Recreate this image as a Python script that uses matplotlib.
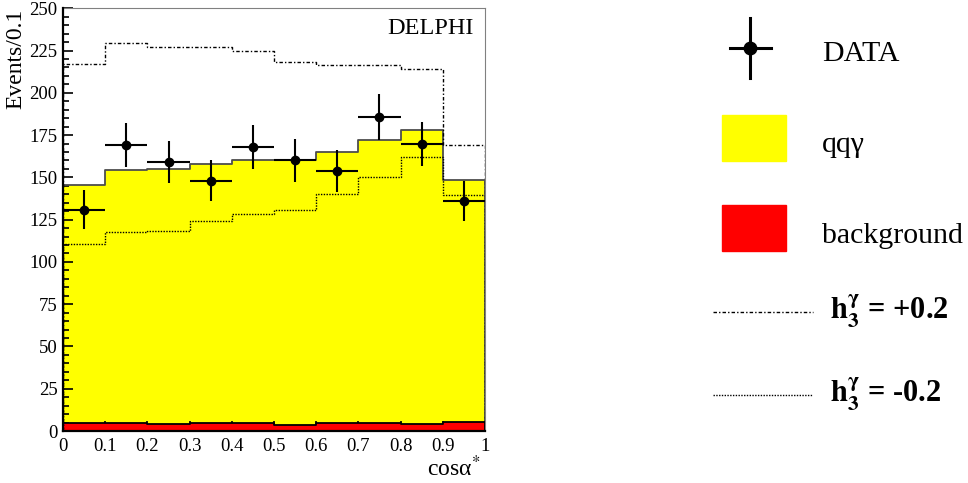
import numpy as np
import matplotlib
matplotlib.use("Agg")
import matplotlib.pyplot as plt
from matplotlib.lines import Line2D
from matplotlib.patches import Rectangle
from matplotlib.ticker import MultipleLocator, FixedLocator, FixedFormatter

plt.rcParams["font.family"] = ["Liberation Serif", "DejaVu Serif"]
plt.rcParams["mathtext.fontset"] = "stix"

# cos(alpha*) binning
bin_edges = [0.0, 0.1, 0.2, 0.3, 0.4, 0.5, 0.6, 0.7, 0.8, 0.9, 1.0]

# observed events per bin with statistical errors
data = [131, 169, 159, 148, 168, 160, 154, 186, 170, 136]
data_err = [11.4, 13.0, 12.6, 12.2, 13.0, 12.6, 12.4, 13.6, 13.0, 11.7]

# stacked Monte Carlo: qqgamma (top of stack) and background
qqg_total = [145.5, 154.3, 155.0, 157.9, 160.3, 160.0, 165.2, 172.0, 178.2, 148.7]
background = [4.5, 4.9, 4.1, 4.9, 4.9, 3.4, 4.5, 4.7, 4.0, 5.3]

# anomalous coupling predictions
h3_plus = [217.0, 229.3, 227.3, 227.3, 224.9, 218.0, 216.7, 216.7, 213.9, 169.1]
h3_minus = [110.4, 117.5, 118.5, 124.0, 128.1, 130.7, 140.0, 150.0, 161.9, 139.5]

x_tick_labels = ["0", "0.1", "0.2", "0.3", "0.4", "0.5", "0.6", "0.7", "0.8", "0.9", "1"]

W, H = 968, 483
fig = plt.figure(figsize=(W / 100, H / 100), dpi=100)
ax = fig.add_axes([63 / W, 1 - 431 / H, 422 / W, (431 - 8.3) / H])

edges = np.array(bin_edges)


def outline(vals):
    """Closed histogram outline that drops to zero at both ends."""
    xs = np.concatenate([[edges[0]], np.repeat(edges, 2)[1:-1], [edges[-1]]])
    ys = np.concatenate([[0], np.repeat(vals, 2), [0]])
    return xs, ys


# qqgamma stack
ax.stairs(qqg_total, edges, fill=True, color="#ffff00", zorder=1)
xs, ys = outline(qqg_total)
ax.plot(xs, ys, color="#4d4d4d", lw=1.3, zorder=2)

# background
ax.stairs(background, edges, fill=True, color="#ff0000", zorder=3)
xs, ys = outline(background)
ax.plot(xs, ys, color="black", lw=1.3, zorder=4)

# h3 = +0.2 and h3 = -0.2 predictions
xs, ys = outline(h3_plus)
ax.plot(xs, ys, color="black", lw=1.0, linestyle=(0, (2.5, 1.5, 1, 1.5)), zorder=5)
xs, ys = outline(h3_minus)
ax.plot(xs, ys, color="black", lw=1.0, linestyle=(0, (1, 1)), zorder=5)

# data points
centers = 0.5 * (edges[:-1] + edges[1:])
half_w = 0.5 * np.diff(edges)
ax.errorbar(centers, data, xerr=half_w, yerr=data_err, fmt="o", color="black",
            ms=6, elinewidth=1.5, capsize=0, zorder=6)

ax.set_xlim(0, 1)
ax.set_ylim(0, 250)

ax.xaxis.set_major_locator(FixedLocator(bin_edges))
ax.xaxis.set_major_formatter(FixedFormatter(x_tick_labels))
ax.xaxis.set_minor_locator(MultipleLocator(0.02))
ax.yaxis.set_major_locator(MultipleLocator(25))
ax.yaxis.set_minor_locator(MultipleLocator(5))
ax.tick_params(which="both", direction="in", top=False, right=False,
               labelsize=13.5, width=1.2, zorder=10)
ax.tick_params(which="major", length=7)
ax.tick_params(which="minor", length=4)
ax.tick_params(axis="x", pad=5)
ax.tick_params(axis="y", pad=4)
for s in ("left", "bottom"):
    ax.spines[s].set_linewidth(1.6)
    ax.spines[s].set_zorder(10)
for s in ("top", "right"):
    ax.spines[s].set_linewidth(0.8)
    ax.spines[s].set_color("#808080")

ax.text(-47 / 422, 1.0, "Events/0.1", transform=ax.transAxes, rotation=90,
        ha="center", va="top", fontsize=17)
ax.text(417 / 422, -45 / 422.7, "cosα$^{*}$", transform=ax.transAxes,
        ha="right", va="baseline", fontsize=17)
ax.text(0.973, 0.978, "DELPHI", transform=ax.transAxes, ha="right", va="top",
        fontsize=17.5)

# legend drawn in figure pixel coordinates
def fx(px):
    return px / W


def fy(py):
    return 1 - py / H


fig.add_artist(Line2D([fx(730), fx(771)], [fy(48.3), fy(48.3)], color="black", lw=2.2))
fig.add_artist(Line2D([fx(750), fx(750)], [fy(18), fy(78)], color="black", lw=2.2))
fig.add_artist(Line2D([fx(750)], [fy(48.3)], marker="o", ms=9, color="black"))
fig.text(fx(822), fy(61), "DATA", ha="left", va="baseline", fontsize=21.5)

fig.add_artist(Rectangle((fx(722), fy(161)), fx(64), 46 / H, color="#ffff00"))
fig.text(fx(822), fy(152), "qqγ", ha="left", va="baseline", fontsize=21.5)

fig.add_artist(Rectangle((fx(722), fy(251)), fx(64), 46 / H, color="#ff0000"))
fig.text(fx(822), fy(243), "background", ha="left", va="baseline", fontsize=21.5)

fig.add_artist(Line2D([fx(713), fx(813)], [fy(311.7), fy(311.7)], color="black",
                      lw=1.0, linestyle=(0, (2.5, 1.5, 1, 1.5))))
fig.text(fx(830), fy(319.3), r"$\mathbf{h}_{\mathbf{3}}^{\mathbf{\gamma}}$ = +0.2",
         ha="left", va="baseline", fontsize=22, fontweight="bold")

fig.add_artist(Line2D([fx(713), fx(813)], [fy(395), fy(395)], color="black",
                      lw=1.0, linestyle=(0, (1, 1))))
fig.text(fx(830), fy(402.7), r"$\mathbf{h}_{\mathbf{3}}^{\mathbf{\gamma}}$ = -0.2",
         ha="left", va="baseline", fontsize=22, fontweight="bold")

fig.savefig("out.png", dpi=100)
